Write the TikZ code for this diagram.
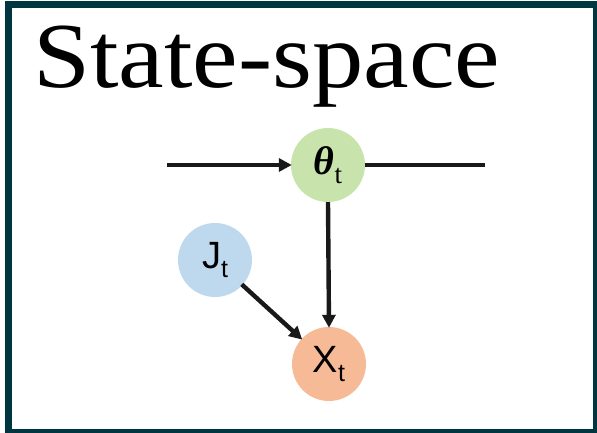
\documentclass[tikz,border=0pt]{standalone}
\usepackage{fontspec}
\setmainfont{Liberation Serif}
\newfontfamily\labelsans{Liberation Sans}
\usetikzlibrary{arrows.meta}

\definecolor{frameteal}{RGB}{0,54,64}
\definecolor{stategreen}{RGB}{200,228,172}
\definecolor{inputblue}{RGB}{190,216,238}
\definecolor{obsorange}{RGB}{246,186,150}

\tikzset{
  varnode/.style={circle, minimum size=74pt, inner sep=0pt},
  link/.style={line width=4.4pt, draw=black!90},
  tiparrow/.style={link, -{Triangle[length=13pt, width=13pt]}, shorten >=-1pt},
}

\begin{document}
\begin{tikzpicture}[x=1pt, y=-1pt]
  \useasboundingbox (0,0) rectangle (597,433);

  % outer frame
  \draw[frameteal, line width=7pt] (8.5,4.5) rectangle (596.5,432.5);

  % heading
  \node[anchor=base west, inner sep=0pt] (title) at (33,88)
    {\resizebox{467pt}{\height}{\fontsize{93pt}{100pt}\selectfont State-space}};

  % variables
  \node[varnode, fill=stategreen] (theta) at (328,165)
    {\fontsize{40pt}{42pt}\selectfont\bfseries\itshape θ\raisebox{-9pt}{\fontsize{27pt}{28pt}\selectfont\mdseries\upshape t}};
  \node[varnode, fill=inputblue] (J) at (215,260)
    {\labelsans\fontsize{38pt}{40pt}\selectfont J\raisebox{-9pt}{\fontsize{25pt}{26pt}\selectfont t}};
  \node[varnode, fill=obsorange] (X) at (329,364)
    {\labelsans\fontsize{38pt}{40pt}\selectfont X\raisebox{-9pt}{\fontsize{25pt}{26pt}\selectfont t}};

  % chain ends
  \coordinate (inL) at (167,165);
  \coordinate (outR) at (485,165);

  % connectors
  \draw[tiparrow] (inL) -- (theta.west);
  \draw[link] (theta.east) -- (outR);
  \draw[tiparrow] (theta.south) -- (X.north);
  \draw[tiparrow, shorten <=-1pt] (J) -- (X);
\end{tikzpicture}
\end{document}
